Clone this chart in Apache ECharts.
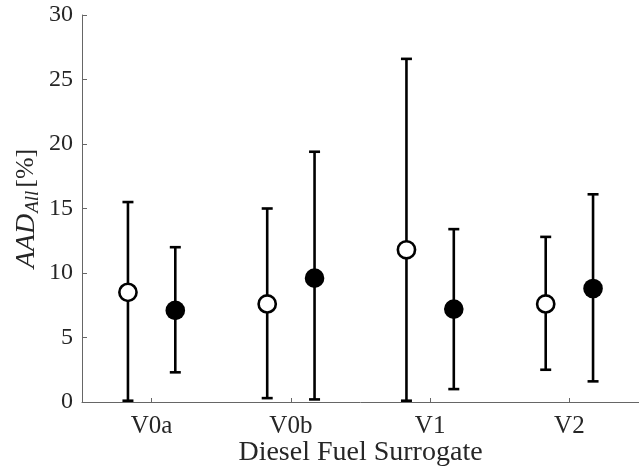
<!DOCTYPE html>
<html>
<head>
<meta charset="utf-8">
<script src="https://cdn.jsdelivr.net/npm/echarts@6/dist/echarts.min.js"></script>
<style>
  html, body { margin: 0; padding: 0; background: #fff; }
  #chart { width: 639px; height: 467px; }
</style>
</head>
<body>
<div id="chart"></div>
<script>
// fuel surrogates on x
const categories = ['V0a', 'V0b', 'V1', 'V2'];
// open markers (left of each tick)
const openMean = [8.5, 7.6, 11.8, 7.6];
const openLow  = [0.1, 0.3, 0.1, 2.5];
const openHigh = [15.5, 15.0, 26.6, 12.8];
// filled markers (right of each tick)
const fillMean = [7.1, 9.6, 7.2, 8.8];
const fillLow  = [2.3, 0.2, 1.0, 1.6];
const fillHigh = [12.0, 19.4, 13.4, 16.1];

const yTicks = [0, 5, 10, 15, 20, 25, 30];

const font = 'Liberation Serif, Times New Roman, serif';
const textColor = '#262626';

function errData(mean, low, high) {
  return categories.map((c, i) => [i, mean[i], low[i], high[i]]);
}

function errSeries(name, mean, low, high, shift, filled) {
  return {
    type: 'custom',
    name: name,
    data: errData(mean, low, high),
    renderItem: function (params, api) {
      const band = api.size([1, 0])[0];
      const dx = band * shift;
      const c = api.coord([api.value(0), api.value(1)]);
      const lo = api.coord([api.value(0), api.value(2)]);
      const hi = api.coord([api.value(0), api.value(3)]);
      const x = c[0] + dx;
      const cap = 5.5;
      const st = { stroke: '#000', lineWidth: 2.6 };
      return {
        type: 'group',
        children: [
          { type: 'line', shape: { x1: x, y1: lo[1], x2: x, y2: hi[1] }, style: st },
          { type: 'line', shape: { x1: x - cap, y1: hi[1], x2: x + cap, y2: hi[1] }, style: st },
          { type: 'line', shape: { x1: x - cap, y1: lo[1], x2: x + cap, y2: lo[1] }, style: st },
          {
            type: 'circle',
            shape: { cx: x, cy: c[1], r: filled ? 9.8 : 8.6 },
            style: { fill: filled ? '#000' : '#fff', stroke: '#000', lineWidth: filled ? 0 : 2.6 }
          }
        ]
      };
    }
  };
}

const chart = echarts.init(document.getElementById('chart'), null, { renderer: 'canvas' });
chart.setOption({
  animation: false,
  backgroundColor: '#fff',
  grid: { left: 82, right: 0, top: 15, bottom: 65, containLabel: false, outerBoundsMode: 'none' },
  xAxis: {
    type: 'category',
    data: categories,
    boundaryGap: true,
    name: 'Diesel Fuel Surrogate',
    nameLocation: 'middle',
    nameGap: 37,
    nameMoveOverlap: false,
    nameTextStyle: { fontFamily: font, fontSize: 28, color: textColor },
    axisLine: { lineStyle: { color: '#666', width: 1 } },
    axisTick: { show: true, alignWithLabel: true, inside: true, length: 4, lineStyle: { color: '#666' } },
    axisLabel: { fontFamily: font, fontSize: 25, color: textColor, margin: 12 },
    splitLine: { show: false }
  },
  yAxis: {
    type: 'value',
    min: yTicks[0],
    max: yTicks[yTicks.length - 1],
    interval: 5,
    name: '{i|AAD}{s|All}{n|[%]}',
    nameLocation: 'middle',
    nameGap: 40,
    nameMoveOverlap: false,
    nameTextStyle: {
      rich: {
        i: { fontFamily: font, fontStyle: 'italic', fontSize: 28, color: textColor },
        s: { fontFamily: font, fontStyle: 'italic', fontSize: 19, color: textColor, padding: [12, 3, 0, 1] },
        n: { fontFamily: font, fontSize: 26, color: textColor }
      }
    },
    axisLine: { show: true, lineStyle: { color: '#666', width: 1 } },
    axisTick: { show: true, inside: true, length: 5, lineStyle: { color: '#666' } },
    axisLabel: { fontFamily: font, fontSize: 24, color: textColor, margin: 9 },
    splitLine: { show: false }
  },
  series: [
    errSeries('open', openMean, openLow, openHigh, -0.17, false),
    errSeries('filled', fillMean, fillLow, fillHigh, 0.17, true)
  ]
});
</script>
</body>
</html>
